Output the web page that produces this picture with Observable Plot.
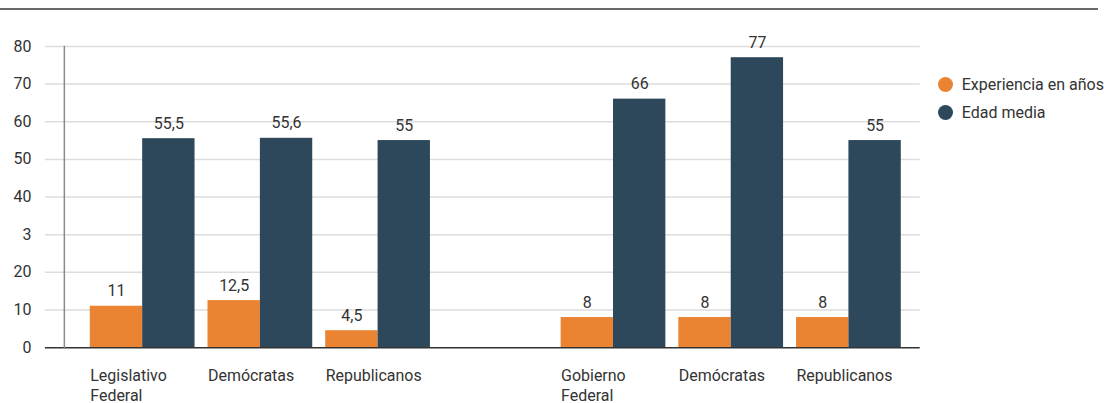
<!DOCTYPE html>
<html>
<head>
<meta charset="utf-8">
<script src="https://cdn.jsdelivr.net/npm/d3@7"></script>
<script src="https://cdn.jsdelivr.net/npm/@observablehq/plot@0.6"></script>
<style>
  body { margin: 0; background: #fff; font-family: Roboto, "Noto Sans", sans-serif; color: #333; }
  #wrap { padding-top: 8px; width: 1104px; }
  #rule { border-top: 2px solid #6a6a6a; width: 1098px; }
  #row { display: flex; }
  #legend { padding-top: 60px; margin-left: 10px; font-size: 16px; }
  .item { display: flex; align-items: center; height: 28px; white-space: nowrap; }
  .dot { width: 15px; height: 15px; border-radius: 50%; margin-right: 9px; }
</style>
</head>
<body>
<div id="wrap">
  <div id="rule"></div>
  <div id="row">
    <div id="chart"></div>
    <div id="legend"></div>
  </div>
</div>
<script>
// Categories (an empty slot separates the two blocks)
const categories = ["Legislativo\nFederal", "Demócratas", "Republicanos", "", "Gobierno\nFederal", "Demócratas", "Republicanos"];
const experiencia = [11, 12.5, 4.5, null, 8, 8, 8];
const edadMedia = [55.5, 55.6, 55, null, 66, 77, 55];

const seriesNames = ["Experiencia en años", "Edad media"];
const seriesColors = ["#EA8432", "#2D475B"];

const yTicks = [0, 10, 20, 30, 40, 50, 60, 70, 80];
const yTickLabels = ["0", "10", "20", "3", "40", "50", "60", "70", "80"];

const fmt = v => String(v).replace(".", ",");

const idx = d3.range(categories.length);
const catRows = idx.map(i => ({i, label: categories[i]}));
const expRows = idx.filter(i => experiencia[i] != null).map(i => ({i, value: experiencia[i]}));
const ageRows = idx.filter(i => edadMedia[i] != null).map(i => ({i, value: edadMedia[i]}));

const W = 930, H = 393;
const xOpts = {domain: idx, range: [64, 922], paddingInner: 0.111, paddingOuter: 0.187, align: 0.584};
const bw = Plot.scale({x: {type: "band", ...xOpts}}).bandwidth;

const chart = Plot.plot({
  width: W,
  height: H,
  marginLeft: 64,
  marginRight: 8,
  marginTop: 36,
  marginBottom: 55,
  style: {fontFamily: "Roboto, 'Noto Sans', sans-serif", fontSize: "16px", color: "#333", background: "#fff"},
  x: {type: "band", ...xOpts, axis: null},
  y: {domain: [0, 80], axis: null},
  marks: [
    Plot.ruleY(yTicks.slice(1), {stroke: "#dddddd", strokeWidth: 1.5, insetLeft: -19}),
    Plot.barY(expRows, {x: "i", y: "value", fill: seriesColors[0], insetRight: bw / 2}),
    Plot.barY(ageRows, {x: "i", y: "value", fill: seriesColors[1], insetLeft: bw / 2}),
    Plot.ruleY([0], {stroke: "#333", strokeWidth: 1.5, insetLeft: -19}),
    Plot.frame({anchor: "left", stroke: "#8a8a8a", strokeWidth: 1.5}),
    Plot.axisY(yTicks, {
      anchor: "left", tickSize: 0, tickPadding: 33, label: null,
      tickFormat: d => yTickLabels[yTicks.indexOf(d)],
      fontSize: 16, fill: "#333"
    }),
    Plot.text(expRows, {x: "i", y: "value", text: d => fmt(d.value), dx: -bw / 4, dy: -10, lineAnchor: "bottom", fontSize: 16, fill: "#333"}),
    Plot.text(ageRows, {x: "i", y: "value", text: d => fmt(d.value), dx: bw / 4, dy: -10, lineAnchor: "bottom", fontSize: 16, fill: "#333"}),
    Plot.text(catRows, {
      x: "i", text: "label", frameAnchor: "bottom", lineAnchor: "top", textAnchor: "start",
      dx: -bw / 2, dy: 19, lineHeight: 1.25, fontSize: 16, fill: "#333"
    })
  ]
});
document.getElementById("chart").appendChild(chart);

// Legend with round swatches
const legend = d3.select("#legend");
seriesNames.forEach((name, k) => {
  const item = legend.append("div").attr("class", "item");
  item.append("div").attr("class", "dot").style("background", seriesColors[k]);
  item.append("span").text(name);
});
</script>
</body>
</html>
